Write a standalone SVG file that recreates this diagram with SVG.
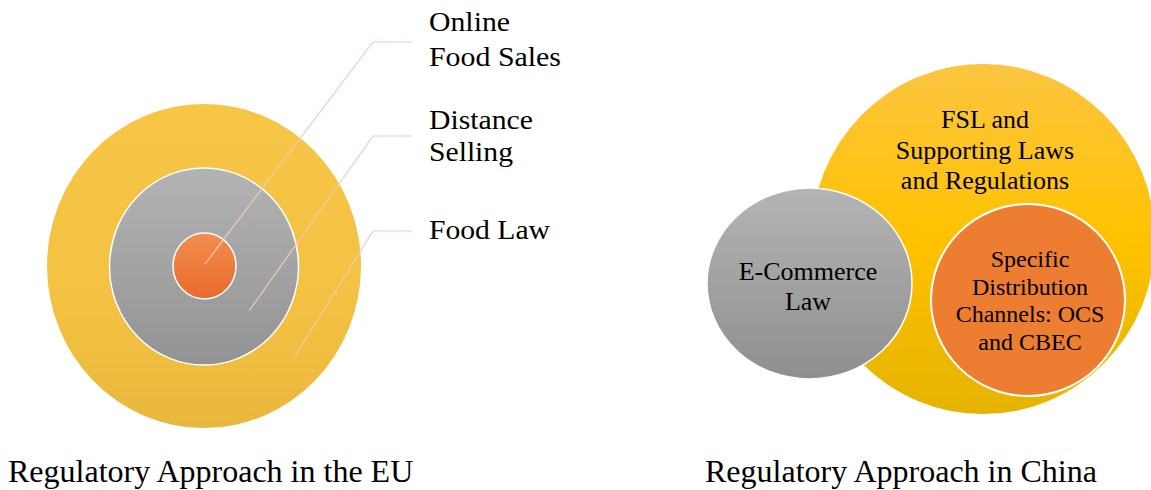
<svg xmlns="http://www.w3.org/2000/svg" width="1151" height="490" viewBox="0 0 1151 490">
<defs>
<linearGradient id="gYel" x1="0" y1="0" x2="0" y2="1">
<stop offset="0" stop-color="#F8C646"/>
<stop offset="0.6" stop-color="#F4C242"/>
<stop offset="1" stop-color="#E9B73C"/>
</linearGradient>
<linearGradient id="gGray" x1="0" y1="0" x2="0" y2="1">
<stop offset="0" stop-color="#B3B3B3"/>
<stop offset="1" stop-color="#939393"/>
</linearGradient>
<linearGradient id="gOr" x1="0" y1="0" x2="0" y2="1">
<stop offset="0" stop-color="#F28E4E"/>
<stop offset="1" stop-color="#E96A2C"/>
</linearGradient>
<linearGradient id="gYel2" x1="0" y1="0" x2="0" y2="1">
<stop offset="0" stop-color="#FCC541"/>
<stop offset="0.5" stop-color="#FFC200"/>
<stop offset="1" stop-color="#E5B300"/>
</linearGradient>
<linearGradient id="gGray2" x1="0" y1="0" x2="0" y2="1">
<stop offset="0" stop-color="#B4B4B4"/>
<stop offset="1" stop-color="#8F8F8F"/>
</linearGradient>
</defs>
<style>
text{font-family:"Liberation Serif","Times New Roman",serif;fill:#000}
.lbl{font-size:27px}
.cap{font-size:32px}
.cn{font-size:26px;text-anchor:middle}
.or{font-size:24px;text-anchor:middle}
.lead{fill:none;stroke:#F5C9B6;stroke-width:1.2}
.wst{stroke:#FFFFFF;stroke-width:1.5}
</style>
<rect width="1151" height="490" fill="#FFFFFF"/>

<g id="eu-food-law">
<ellipse cx="204" cy="266" rx="157" ry="162" fill="url(#gYel)"/>
</g>
<g id="eu-distance-selling">
<ellipse cx="204" cy="266.5" rx="94.5" ry="98.5" fill="url(#gGray)" class="wst"/>
</g>
<g id="eu-online-food-sales">
<ellipse cx="204.5" cy="266" rx="31.5" ry="33" fill="url(#gOr)" class="wst"/>
</g>

<g id="connectors">
<polyline class="lead" points="205,264 373,42 412,42"/>
<polyline class="lead" points="249,311 373,136 412,136"/>
<polyline class="lead" points="295,356 373,231 412,231"/>
</g>

<g id="eu-labels">
<text class="lbl" x="429" y="31" textLength="81" lengthAdjust="spacingAndGlyphs">Online</text>
<text class="lbl" x="429" y="66" textLength="132" lengthAdjust="spacingAndGlyphs">Food Sales</text>
<text class="lbl" x="429" y="129" textLength="104" lengthAdjust="spacingAndGlyphs">Distance</text>
<text class="lbl" x="429" y="161" textLength="84" lengthAdjust="spacingAndGlyphs">Selling</text>
<text class="lbl" x="429" y="239" textLength="121" lengthAdjust="spacingAndGlyphs">Food Law</text>
</g>

<g id="cn-fsl">
<ellipse cx="983" cy="239" rx="172" ry="175" fill="url(#gYel2)"/>
<text class="cn" x="985" y="128">FSL and</text>
<text class="cn" x="985" y="159">Supporting Laws</text>
<text class="cn" x="985" y="189">and Regulations</text>
</g>
<g id="cn-ecommerce">
<ellipse cx="809.5" cy="283.5" rx="102.5" ry="95.5" fill="url(#gGray2)" class="wst"/>
<text class="cn" x="808" y="280">E-Commerce</text>
<text class="cn" x="808" y="310">Law</text>
</g>
<g id="cn-specific">
<ellipse cx="1028" cy="300" rx="97" ry="96" fill="#ED7D31" stroke="#FFFFFF" stroke-width="2"/>
<text class="or" x="1030" y="267">Specific</text>
<text class="or" x="1030" y="295">Distribution</text>
<text class="or" x="1030" y="322">Channels: OCS</text>
<text class="or" x="1030" y="350">and CBEC</text>
</g>

<g id="captions">
<text class="cap" x="8" y="482">Regulatory Approach in the EU</text>
<text class="cap" x="705" y="482">Regulatory Approach in China</text>
</g>
</svg>
